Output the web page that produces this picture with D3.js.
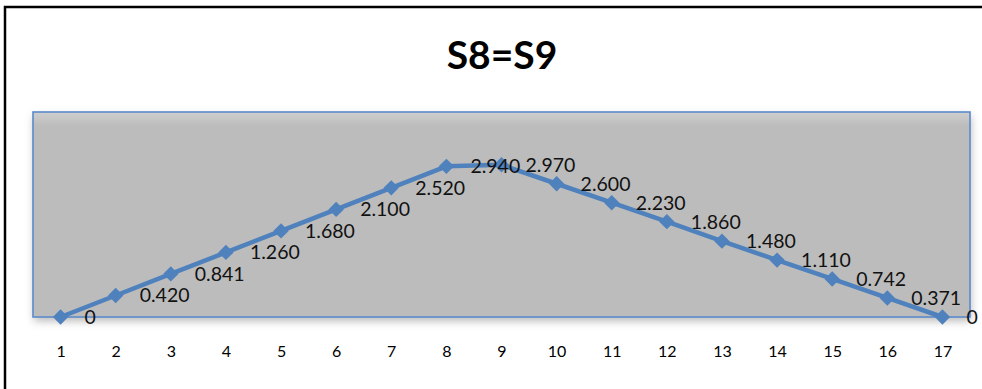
<!DOCTYPE html>
<html>
<head>
<meta charset="utf-8">
<script src="https://cdn.jsdelivr.net/npm/d3@7"></script>
<style>
  html, body { margin: 0; padding: 0; background: #ffffff; }
  svg { display: block; }
  text { font-family: Lato, "Open Sans", "Liberation Sans", sans-serif; }
</style>
</head>
<body>
<svg id="chart" width="982" height="389"></svg>
<script>
// Series: S8=S9 profile along positions 1..17
const categories = ["1","2","3","4","5","6","7","8","9","10","11","12","13","14","15","16","17"];
const values = [0, 0.420, 0.841, 1.260, 1.680, 2.100, 2.520, 2.940, 2.970, 2.600, 2.230, 1.860, 1.480, 1.110, 0.742, 0.371, 0];
const labels = ["0","0.420","0.841","1.260","1.680","2.100","2.520","2.940","2.970","2.600","2.230","1.860","1.480","1.110","0.742","0.371","0"];
const title = "S8=S9";
const yDomain = [0, 4];

const svg = d3.select("#chart");
const W = 982, H = 389;
const plot = { left: 33, right: 970, top: 112, bottom: 317 };

const defs = svg.append("defs");
const shadow = defs.append("filter").attr("id", "plotShadow")
  .attr("x", "-5%").attr("y", "-10%").attr("width", "110%").attr("height", "130%");
shadow.append("feDropShadow")
  .attr("dx", 1).attr("dy", 4).attr("stdDeviation", 4)
  .attr("flood-color", "#000").attr("flood-opacity", 0.28);

const topShade = defs.append("linearGradient").attr("id", "topShade")
  .attr("x1", 0).attr("y1", 0).attr("x2", 0).attr("y2", 1);
topShade.append("stop").attr("offset", "0%").attr("stop-color", "#cfcfcf");
topShade.append("stop").attr("offset", "100%").attr("stop-color", "#bcbcbc");

// chart frame
svg.append("rect")
  .attr("x", 5).attr("y", 7).attr("width", 1000).attr("height", 420)
  .attr("fill", "#ffffff").attr("stroke", "#000").attr("stroke-width", 2.5);

// title
svg.append("text")
  .attr("x", 502).attr("y", 69)
  .attr("text-anchor", "middle")
  .attr("font-weight", 700).attr("font-size", 39)
  .attr("fill", "#000")
  .text(title);

const x = d3.scalePoint().domain(categories).range([plot.left, plot.right]).padding(0.5);
const y = d3.scaleLinear().domain(yDomain).range([plot.bottom, plot.top]);

// plot area
svg.append("rect")
  .attr("x", plot.left).attr("y", plot.top)
  .attr("width", plot.right - plot.left).attr("height", plot.bottom - plot.top)
  .attr("fill", "#bcbcbc").attr("filter", "url(#plotShadow)");
svg.append("rect")
  .attr("x", plot.left).attr("y", plot.top)
  .attr("width", plot.right - plot.left).attr("height", 14)
  .attr("fill", "url(#topShade)");
svg.append("rect")
  .attr("x", plot.left).attr("y", plot.top)
  .attr("width", plot.right - plot.left).attr("height", plot.bottom - plot.top)
  .attr("fill", "none").attr("stroke", "#5a8acb").attr("stroke-width", 1.6);

// category axis
const xAxis = svg.append("g")
  .attr("transform", `translate(0,346)`)
  .call(d3.axisBottom(x).tickSize(0).tickPadding(0));
xAxis.select(".domain").remove();
xAxis.selectAll("text")
  .attr("font-size", 16)
  .attr("fill", "#000")
  .style("font-family", "Lato, 'Open Sans', sans-serif");

// series line
const line = d3.line()
  .x((d, i) => x(categories[i]))
  .y(d => y(d));
svg.append("path")
  .datum(values)
  .attr("d", line)
  .attr("fill", "none")
  .attr("stroke", "#4f81bd")
  .attr("stroke-width", 4.5)
  .attr("stroke-linejoin", "round");

// diamond markers
const diamond = d3.symbol().type(d3.symbolSquare).size(118);
svg.append("g").selectAll("path")
  .data(values)
  .join("path")
  .attr("d", diamond)
  .attr("transform", (d, i) => `translate(${x(categories[i])},${y(d)}) rotate(45)`)
  .attr("fill", "#4f81bd");

// data labels
svg.append("g").selectAll("text")
  .data(values)
  .join("text")
  .attr("x", (d, i) => x(categories[i]) + 24)
  .attr("y", d => y(d))
  .attr("dy", "0.36em")
  .attr("font-size", 19.5)
  .attr("fill", "#111")
  .text((d, i) => labels[i]);
</script>
</body>
</html>
